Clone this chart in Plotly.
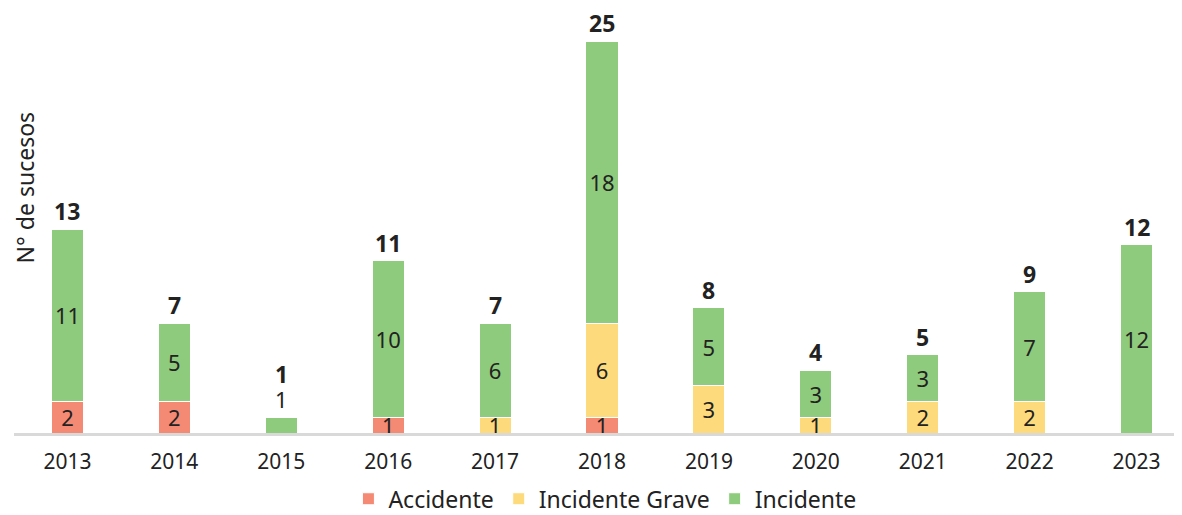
import plotly.graph_objects as go

years = ["2013", "2014", "2015", "2016", "2017", "2018", "2019", "2020", "2021", "2022", "2023"]
accidente = [2, 2, 0, 1, 0, 1, 0, 0, 0, 0, 0]
incidente_grave = [0, 0, 0, 0, 1, 6, 3, 1, 2, 2, 0]
incidente = [11, 5, 1, 10, 6, 18, 5, 3, 3, 7, 12]

totals = [a + g + i for a, g, i in zip(accidente, incidente_grave, incidente)]

FONT = "Noto Sans"
TXT = "#222222"


def labels(vals):
    return [str(v) if v else "" for v in vals]


fig = go.Figure()

series = [
    ("Accidente", accidente, "#F48974"),
    ("Incidente Grave", incidente_grave, "#FDDA7C"),
    ("Incidente", incidente, "#8FCB7C"),
]
for name, vals, color in series:
    # tiny top segments get their label above the bar
    pos = ["outside" if (name == "Incidente" and v == t and v < 2) else "inside"
           for v, t in zip(vals, totals)]
    fig.add_trace(go.Bar(
        x=years, y=vals, name=name,
        marker=dict(color=color, line=dict(color="white", width=1)),
        text=labels(vals), textposition=pos, textangle=0,
        insidetextanchor="middle", constraintext="none",
        textfont=dict(family=FONT, size=22, color=TXT),
        cliponaxis=False,
    ))

# bold totals on top
for i, t in enumerate(totals):
    extra = 25 if (incidente[i] == t and t < 2) else 0
    fig.add_annotation(
        x=i, y=t, text=f"<b>{t}</b>", showarrow=False,
        xref="x", yref="y",
        yanchor="bottom", yshift=0 + extra,
        font=dict(family=FONT, size=23, color=TXT),
    )

fig.add_annotation(
    text="N° de sucesos", textangle=-90, showarrow=False,
    xref="paper", yref="paper", x=0.0092, y=0.58,
    xanchor="center", yanchor="middle", borderpad=0,
    font=dict(family=FONT, size=23, color=TXT),
)

fig.update_layout(
    barmode="stack",
    bargap=0.7,
    width=1182, height=515,
    margin=dict(l=6, r=0, t=2, b=90),
    plot_bgcolor="white", paper_bgcolor="white",
    font=dict(family=FONT, size=20, color=TXT),
    showlegend=True,
    legend=dict(orientation="h", xref="container", yref="container",
                x=0.505, xanchor="center", y=0.047, yanchor="middle",
                traceorder="normal",
                font=dict(family=FONT, size=23, color=TXT), itemwidth=30),
    xaxis=dict(type="category", range=[-0.5, 10.5], showline=True, linecolor="#D9D9D9",
               linewidth=3, ticks="", showgrid=False, ticklabelstandoff=8,
               automargin=False,
               tickfont=dict(family=FONT, size=21, color=TXT)),
    yaxis=dict(range=[0, 26.98], showticklabels=False, showgrid=False, zeroline=False,
               showline=False, ticks="", automargin=False),
)

fig.write_html("out.html")
